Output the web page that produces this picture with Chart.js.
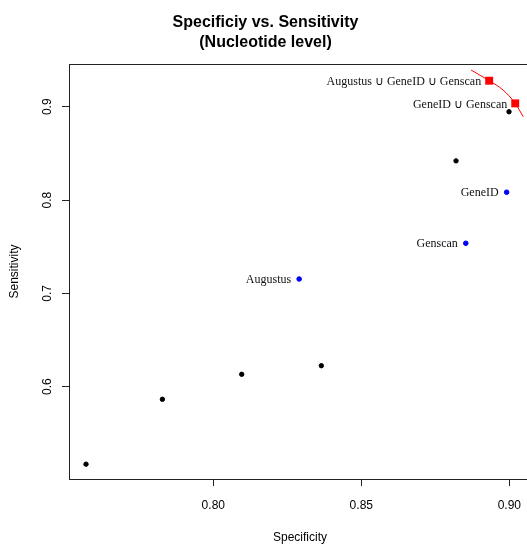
<!DOCTYPE html>
<html>
<head>
<meta charset="utf-8">
<script src="https://cdn.jsdelivr.net/npm/chart.js@4"></script>
<style>
  html, body { margin: 0; padding: 0; background: #fff; overflow: hidden; }
  canvas { display: block; }
</style>
</head>
<body>
<canvas id="chart" width="600" height="545"></canvas>
<script>
// axis ticks
const xTicks = [0.80, 0.85, 0.90];
const yTicks = [0.6, 0.7, 0.8, 0.9];

// unlabelled runs (black)
const otherSpec = [0.757, 0.7828, 0.8096, 0.8365, 0.882, 0.8999];
const otherSens = [0.517, 0.5865, 0.6133, 0.6225, 0.842, 0.8946];

// single predictors (blue)
const singleNames = ['Augustus', 'Genscan', 'GeneID'];
const singleSpec = [0.829, 0.8853, 0.8991];
const singleSens = [0.7154, 0.7537, 0.8084];

// combined predictors (red squares)
const comboNames = ['Augustus \u222A GeneID \u222A Genscan', 'GeneID \u222A Genscan'];
const comboSpec = [0.8932, 0.902];
const comboSens = [0.9279, 0.9036];

// red curve through the combos
const curveSpec = [0.8871, 0.8932, 0.8979, 0.902, 0.9047];
const curveSens = [0.9393, 0.9279, 0.9179, 0.9036, 0.8893];

const pts = (xs, ys) => xs.map((x, i) => ({ x: x, y: ys[i] }));

Chart.defaults.font.family = '"Liberation Sans", Arial, sans-serif';
Chart.defaults.color = '#000';

// full frame round the plot region, like R's box()
const boxPlugin = {
  id: 'box',
  afterDraw(chart) {
    const a = chart.chartArea, ctx = chart.ctx;
    ctx.save();
    ctx.strokeStyle = '#222';
    ctx.lineWidth = 1;
    ctx.strokeRect(a.left + 0.5, a.top + 0.5, a.right - a.left, a.bottom - a.top);
    ctx.restore();
  }
};

// text labels to the left of points
const labelPlugin = {
  id: 'ptLabels',
  afterDatasetsDraw(chart) {
    const ctx = chart.ctx;
    ctx.save();
    ctx.font = '12px "Liberation Serif", "Times New Roman", serif';
    ctx.fillStyle = '#111';
    ctx.textAlign = 'right';
    ctx.textBaseline = 'middle';
    chart.data.datasets.forEach((ds, di) => {
      if (!ds.names) return;
      chart.getDatasetMeta(di).data.forEach((el, i) => {
        ctx.fillText(ds.names[i], el.x - 8, el.y + 1);
      });
    });
    ctx.restore();
  }
};

new Chart(document.getElementById('chart'), {
  type: 'scatter',
  data: {
    datasets: [
      { label: 'combo', names: comboNames, data: pts(comboSpec, comboSens), pointStyle: 'rect',
        pointRadius: 5.6, pointBackgroundColor: '#ff0000', pointBorderColor: '#ff0000', pointBorderWidth: 0 },
      { label: 'single', names: singleNames, data: pts(singleSpec, singleSens),
        pointRadius: 2.3, pointBackgroundColor: '#0000ff', pointBorderColor: '#0000ff', pointBorderWidth: 1 },
      { label: 'other', data: pts(otherSpec, otherSens),
        pointRadius: 2.2, pointBackgroundColor: '#000', pointBorderColor: '#000', pointBorderWidth: 1 },
      { label: 'curve', data: pts(curveSpec, curveSens), showLine: true, cubicInterpolationMode: 'monotone',
        borderColor: '#ff0000', borderWidth: 1, pointRadius: 0 }
    ]
  },
  options: {
    responsive: false,
    animation: false,
    layout: { padding: { left: 0, right: 69, top: 0, bottom: 0 } },
    plugins: {
      legend: { display: false },
      tooltip: { enabled: false },
      title: {
        display: true,
        text: ['Specificiy vs. Sensitivity', '(Nucleotide level)'],
        font: { size: 16, weight: 'bold', lineHeight: '20px' },
        color: '#000',
        padding: { top: 13, bottom: 11 }
      }
    },
    scales: {
      x: {
        type: 'linear',
        min: 0.75125, max: 0.90733,
        afterFit(s) { s.height = 66; },
        afterBuildTicks(s) { s.ticks = xTicks.map(v => ({ value: v })); },
        grid: { drawOnChartArea: false, drawTicks: true, tickLength: 7, color: '#222' },
        border: { display: true, color: '#222' },
        ticks: { padding: 12, font: { size: 12 }, color: '#000', callback: v => v.toFixed(2), maxRotation: 0 },
        title: { display: true, text: 'Specificity', font: { size: 12 }, color: '#000', padding: 0 }
      },
      y: {
        type: 'linear',
        min: 0.5011, max: 0.9458,
        afterFit(s) { s.width = 69; },
        afterBuildTicks(s) { s.ticks = yTicks.map(v => ({ value: v })); },
        grid: { drawOnChartArea: false, drawTicks: true, tickLength: 7, color: '#222' },
        border: { display: true, color: '#222' },
        ticks: { padding: 6, font: { size: 12 }, color: '#000', callback: v => v.toFixed(1),
                 minRotation: 90, maxRotation: 90, crossAlign: 'center' },
        title: { display: true, text: 'Sensitivity', font: { size: 12 }, color: '#000', padding: { top: 7, bottom: 7 } }
      }
    }
  },
  plugins: [boxPlugin, labelPlugin]
});
</script>
</body>
</html>
